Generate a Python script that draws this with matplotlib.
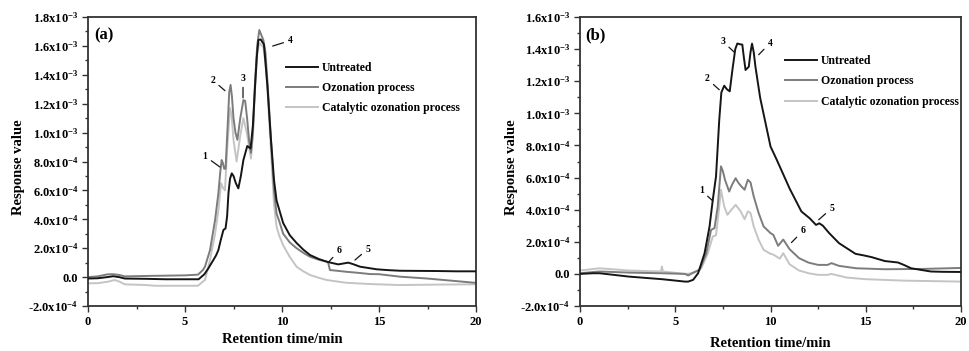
import numpy as np
import matplotlib
matplotlib.use('Agg')
import matplotlib.pyplot as plt
from matplotlib.ticker import FuncFormatter, MultipleLocator

plt.rcParams['font.family'] = 'Liberation Serif'
plt.rcParams['font.weight'] = 'bold'
plt.rcParams['mathtext.fontset'] = 'custom'
plt.rcParams['mathtext.rm'] = 'Liberation Serif:bold'
plt.rcParams['mathtext.it'] = 'Liberation Serif:bold'
plt.rcParams['mathtext.bf'] = 'Liberation Serif:bold'
plt.rcParams['mathtext.default'] = 'rm'

# response values in units of 1e-4, retention time in min
# panel (a)
a_unt_t = [0, 0.5, 1.0, 1.3, 1.6, 1.9, 3.0, 4.0, 5.0, 5.7, 6.0, 6.2, 6.46, 6.6, 6.72, 6.85,
           6.98, 7.09, 7.17, 7.24, 7.32, 7.41, 7.5, 7.62, 7.75, 7.88, 8.01, 8.21, 8.38, 8.5,
           8.61, 8.7, 8.78, 8.9, 9.07, 9.25, 9.42, 9.59, 9.72, 9.85, 10.06, 10.4, 10.75, 11.1,
           11.44, 11.9, 12.3, 12.6, 12.9, 13.2, 13.42, 13.7, 14.02, 14.5, 14.88, 15.5, 16.08,
           17, 18, 19, 20]
a_unt_v = [-0.1, -0.08, 0.0, 0.06, 0.0, -0.1, -0.12, -0.15, -0.15, -0.15, 0.2, 0.6, 1.18, 1.5,
           1.87, 2.6, 3.26, 3.37, 4.2, 5.8, 6.8, 7.18, 7.0, 6.5, 6.14, 7.0, 8.1, 9.07, 8.9, 10.5,
           13.2, 15.2, 16.4, 16.45, 16.1, 13.2, 9.7, 6.7, 5.3, 4.7, 3.74, 2.9, 2.36, 1.9,
           1.53, 1.25, 1.07, 0.97, 0.88, 0.95, 1.0, 0.88, 0.72, 0.62, 0.54, 0.48, 0.44,
           0.43, 0.42, 0.4, 0.4]

a_ozo_t = [0, 0.5, 1.0, 1.3, 1.6, 1.9, 3.0, 4.0, 5.0, 5.67, 5.93, 6.03, 6.29, 6.55, 6.72, 6.82,
           6.89, 6.95, 7.02, 7.09, 7.2, 7.28, 7.35, 7.42, 7.5, 7.6, 7.70, 7.85, 8.01, 8.1, 8.2,
           8.3, 8.40, 8.5, 8.61, 8.72, 8.83, 8.92, 9.04, 9.15, 9.25, 9.42, 9.59, 9.72, 9.85,
           10.06, 10.4, 10.75, 11.1, 11.44, 11.9, 12.3, 12.38, 12.47, 12.9, 13.3, 13.9, 14.54,
           15.0, 16.08, 17.5, 18.5, 20]
a_ozo_v = [0.0, 0.05, 0.19, 0.2, 0.15, 0.05, 0.08, 0.1, 0.12, 0.17, 0.5, 0.72, 1.87, 3.95, 5.8,
           7.3, 8.1, 7.9, 7.5, 7.5, 10.5, 12.8, 13.3, 12.5, 11.0, 10.0, 9.5, 11.0, 12.25, 12.2,
           11.0, 9.5, 8.6, 10.0, 13.5, 16.0, 17.1, 16.8, 16.4, 15.5, 13.5, 9.8, 6.0, 4.4, 3.9,
           3.0, 2.4, 2.0, 1.68, 1.41, 1.2, 1.07, 1.0, 0.49, 0.43, 0.37, 0.3, 0.21,
           0.2, 0.03, -0.1, -0.22, -0.4]

a_cat_t = [0, 0.5, 1.03, 1.37, 1.6, 1.89, 3.0, 3.47, 4.5, 5.67, 5.93, 6.03, 6.29, 6.55, 6.72,
           6.86, 6.95, 7.06, 7.18, 7.32, 7.4, 7.5, 7.66, 7.85, 8.01, 8.2, 8.40, 8.5, 8.61, 8.72,
           8.83, 8.92, 9.04, 9.15, 9.25, 9.42, 9.59, 9.72, 9.85, 10.06, 10.4, 10.75, 11.1,
           11.44, 11.9, 12.3, 13.3, 14.54, 16.08, 18, 20]
a_cat_v = [-0.43, -0.42, -0.32, -0.2, -0.3, -0.5, -0.55, -0.6, -0.6, -0.6, -0.3, -0.2, 1.18,
           3.0, 4.6, 6.5, 6.2, 6.0, 9.0, 11.7, 11.2, 9.5, 8.0, 9.8, 11.0, 9.9, 8.2, 9.8, 13.0,
           15.5, 16.2, 16.1, 15.9, 14.8, 13.0, 9.0, 5.0, 3.5, 2.9, 2.2, 1.4, 0.72, 0.4,
           0.15, -0.05, -0.2, -0.39, -0.48, -0.55, -0.52, -0.5]

# panel (b)
b_unt_t = [0, 0.69, 1.03, 2.58, 4.3, 5.51, 5.68, 5.94, 6.2, 6.54, 6.8, 6.97, 7.14, 7.31, 7.42,
           7.57, 7.71, 7.86, 8.0, 8.15, 8.26, 8.4, 8.52, 8.6, 8.69, 8.86, 8.95, 9.03, 9.12, 9.21,
           9.46, 10.0, 10.33, 11.01, 11.62, 12.05, 12.39, 12.56, 12.75, 13.08, 13.6, 14.46,
           14.9, 15.32, 16.0, 16.69, 17.0, 17.38, 18.41, 19.0, 20]
b_unt_v = [0.0, 0.04, 0.04, -0.17, -0.33, -0.48, -0.48, -0.37, 0.04, 1.29, 2.95, 4.6, 6.07, 9.6,
           11.3, 11.72, 11.5, 11.37, 12.7, 14.0, 14.35, 14.3, 14.28, 13.5, 12.7, 12.9, 13.8,
           14.34, 13.8, 12.9, 10.95, 7.94, 7.1, 5.3, 3.89, 3.47, 3.05, 3.15, 3.0, 2.54, 1.91,
           1.25, 1.15, 1.04, 0.8, 0.71, 0.56, 0.35, 0.15, 0.13, 0.12]

b_ozo_t = [0, 1.03, 2.58, 4.3, 5.51, 5.68, 5.94, 6.28, 6.63, 6.88, 7.06, 7.23, 7.40, 7.5, 7.61,
           7.83, 8.0, 8.17, 8.3, 8.43, 8.64, 8.81, 8.95, 9.12, 9.38, 9.64, 10.0, 10.15, 10.4,
           10.67, 11.0, 11.5, 12.0, 12.5, 13.0, 13.2, 13.6, 14.5, 16, 18, 20]
b_ozo_v = [0.04, 0.15, 0.08, 0.04, 0.0, -0.1, 0.08, 0.25, 1.29, 2.74, 2.85, 4.2, 6.7, 6.4, 5.86,
           5.13, 5.6, 5.96, 5.7, 5.5, 5.24, 5.86, 5.7, 4.82, 3.78, 2.95, 2.54, 2.43, 1.75,
           2.14, 1.54, 0.98, 0.7, 0.56, 0.56, 0.67, 0.5, 0.35, 0.29, 0.31, 0.37]

b_cat_t = [0, 1.03, 2.58, 4.25, 4.3, 4.35, 5.51, 5.94, 6.37, 6.71, 6.97, 7.14, 7.31, 7.40, 7.57,
           7.74, 7.95, 8.17, 8.43, 8.64, 8.81, 8.95, 9.12, 9.38, 9.64, 10.0, 10.15, 10.49,
           10.67, 11.0, 11.5, 12.0, 12.5, 13.0, 13.2, 14.0, 15.0, 17.0, 20]
b_cat_v = [0.21, 0.35, 0.21, 0.15, 0.46, 0.15, 0.0, 0.04, 0.35, 1.29, 2.33, 2.4, 4.2, 5.24, 4.2,
           3.68, 4.0, 4.3, 3.9, 3.41, 3.89, 3.8, 2.95, 2.12, 1.5, 1.25, 1.2, 0.95,
           1.29, 0.6, 0.21, 0.04, -0.06, -0.06, 0.0, -0.23, -0.33, -0.42, -0.48]

labels = ['Untreated', 'Ozonation process', 'Catalytic ozonation process']
colors = ['#151515', '#7c7c7c', '#c4c4c4']

# peak labels: (text, text pos, point pos) in (min, 1e-4)
a_peaks = [('1', (6.03, 8.37), (6.8, 7.62)), ('2', (6.43, 13.64), (7.06, 12.9)),
           ('3', (7.99, 13.73), (7.99, 12.41)), ('4', (10.41, 16.36), (9.52, 15.99)),
           ('6', (12.94, 1.83), (12.39, 1.02)), ('5', (14.42, 1.94), (13.76, 1.18))]
b_peaks = [('1', (6.37, 5.19), (6.97, 4.55)), ('2', (6.68, 12.14), (7.31, 11.47)),
           ('3', (7.49, 14.48), (8.09, 13.82)), ('4', (9.98, 14.38), (9.38, 13.65)),
           ('5', (13.22, 4.1), (12.53, 3.37)), ('6', (11.7, 2.68), (11.1, 1.95))]


def sci_fmt(v, pos):
    if abs(v) < 1e-12:
        return '0.0'
    e = int(np.floor(np.log10(abs(v)) + 1e-9))
    m = v / 10**e
    return f'{m:.1f}x10$^{{{e}}}$'


fig = plt.figure(figsize=(9.69, 3.51), dpi=100)
ax_a = fig.add_axes([88/969, 1 - 306/351, 388/969, 289/351])
ax_b = fig.add_axes([580/969, 1 - 306/351, 381/969, 289/351])

panels = [
    (ax_a, [(a_unt_t, a_unt_v), (a_ozo_t, a_ozo_v), (a_cat_t, a_cat_v)], a_peaks, 1.8e-3,
     '(a)', (0.51, 0.845), -0.095),
    (ax_b, [(b_unt_t, b_unt_v), (b_ozo_t, b_ozo_v), (b_cat_t, b_cat_v)], b_peaks, 1.6e-3,
     '(b)', (0.538, 0.868), -0.108),
]

for ax, series, peaks, ymax, tag, leg_pos, xlab_y in panels:
    # draw light series first so black stays on top
    for (t, v), lab, col, z in zip(series, labels, colors, [3, 2, 1]):
        ax.plot(t, np.array(v) * 1e-4, color=col, lw=1.4, label=lab, zorder=z)
    ax.set_xlim(0, 20)
    ax.set_ylim(-2e-4, ymax)
    ax.xaxis.set_major_locator(MultipleLocator(5))
    ax.xaxis.set_minor_locator(MultipleLocator(2.5))
    ax.yaxis.set_major_locator(MultipleLocator(2e-4))
    ax.yaxis.set_minor_locator(MultipleLocator(1e-4))
    ax.yaxis.set_major_formatter(FuncFormatter(sci_fmt))
    ax.tick_params(which='both', direction='out', top=False, right=False,
                   labelsize=9, width=1.0, color='#333333')
    ax.tick_params(which='major', length=4, pad=3)
    ax.tick_params(which='minor', length=2.5)
    for s in ax.spines.values():
        s.set_linewidth(1.3)
        s.set_color('#333333')
    ax.set_xlabel('Retention time/min', fontsize=10.5, fontweight='bold')
    ax.set_ylabel('Response value', fontsize=10.5, fontweight='bold')
    ax.xaxis.set_label_coords(0.5, xlab_y)
    ax.yaxis.set_label_coords(-0.162, 0.48)
    ax.text(0.015, 0.965, tag, transform=ax.transAxes, ha='left', va='top',
            fontsize=12, fontweight='bold')
    for txt, tpos, ppos in peaks:
        ax.annotate(txt, xy=(ppos[0], ppos[1] * 1e-4), xytext=(tpos[0], tpos[1] * 1e-4),
                    ha='center', va='center', fontsize=7, fontweight='bold',
                    arrowprops=dict(arrowstyle='-', lw=0.9, color='#151515',
                                    shrinkA=1, shrinkB=0))
    handles, labs = ax.get_legend_handles_labels()
    ax.legend(handles, labs, loc='upper left', bbox_to_anchor=leg_pos, frameon=False,
              fontsize=8.5, handlelength=2.7, handletextpad=0.35, labelspacing=0.7,
              borderpad=0, borderaxespad=0)

fig.savefig('out.png', dpi=100)
